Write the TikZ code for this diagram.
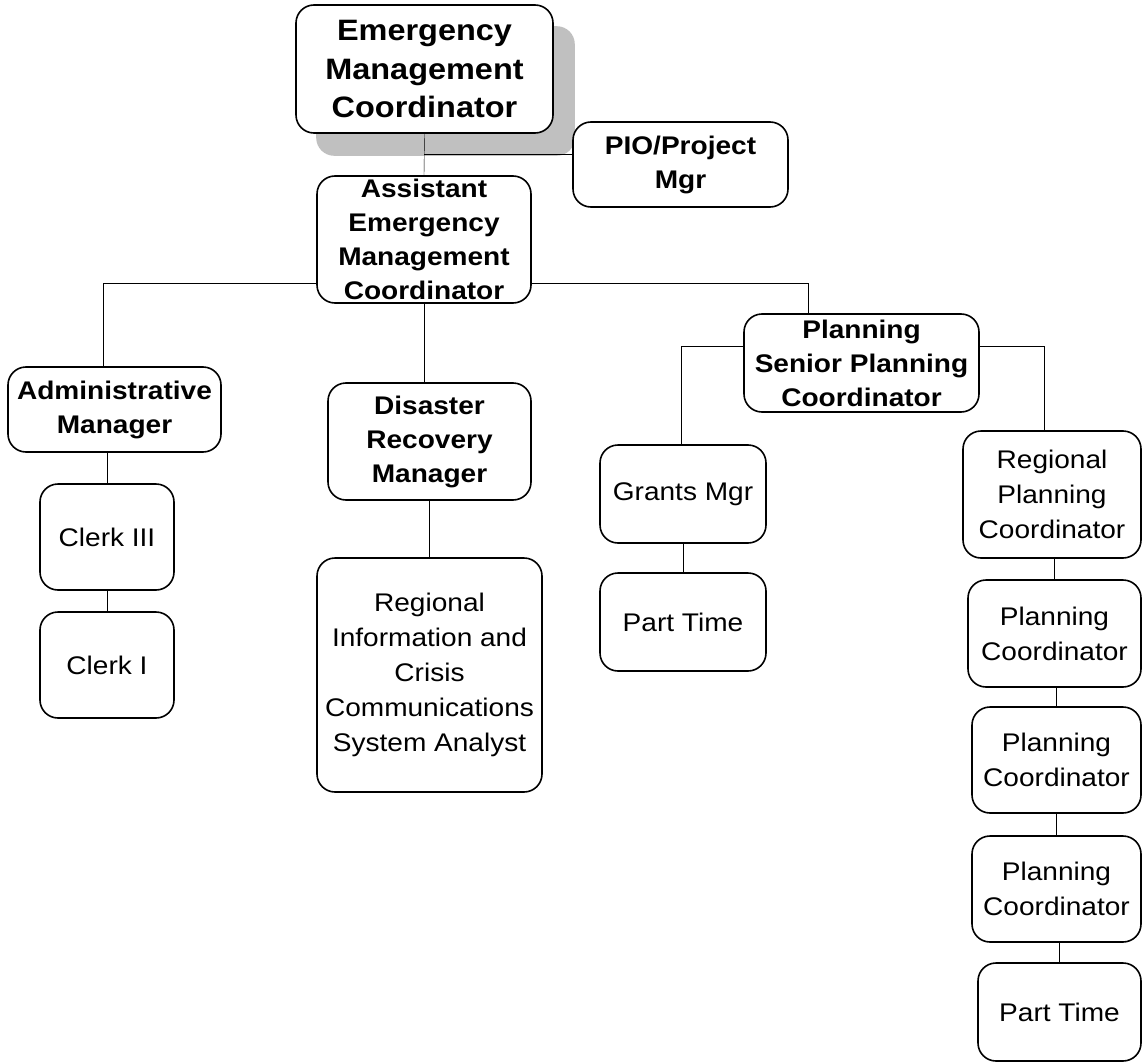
\documentclass[tikz,border=0pt]{standalone}
\usepackage{fontspec}
\setmainfont{Liberation Sans}[FakeStretch=1.1]
\usetikzlibrary{positioning,backgrounds,calc}
\definecolor{shgray}{RGB}{192,192,192}

\begin{document}
\begin{tikzpicture}[x=1pt,y=-1pt,line width=1.2pt]
\tikzstyle{bx} = [draw,fill=white,line width=1.6pt,rounded corners=18pt,inner sep=0pt,align=center,font=\fontsize{25.5}{34}\selectfont\bfseries]
\tikzstyle{rx} = [bx,font=\fontsize{25.5}{35}\selectfont]
\useasboundingbox (0,0) rectangle (1143,1062);
% top of the tree
\node[bx,minimum width=257,minimum height=128,font=\fontsize{29.5}{38.5}\selectfont\bfseries] (emc) at (424.5,69) {Emergency\\Management\\Coordinator};
\node[bx,minimum width=215,minimum height=85] (pio) at (680.5,164.5) {PIO/Project\\Mgr};
\node[bx,minimum width=214,minimum height=127] (aemc) at (424,239.5) {Assistant\\Emergency\\Management\\Coordinator};
% admin branch
\node[bx,minimum width=213,minimum height=85] (admin) at (114.5,409.5) {Administrative\\Manager};
\node[rx,minimum width=134,minimum height=106] (clerk3) at (107,537) {Clerk III};
\node[rx,minimum width=134,minimum height=106] (clerk1) at (107,665) {Clerk I};
% disaster recovery branch
\node[bx,minimum width=203,minimum height=117] (drm) at (429.5,441.5) {Disaster\\Recovery\\Manager};
\node[rx,minimum width=225,minimum height=234] (rica) at (429.5,675) {Regional\\Information and\\Crisis\\Communications\\System Analyst};
% planning branch
\node[bx,minimum width=235,minimum height=98] (plan) at (861.5,363) {Planning\\Senior Planning\\Coordinator};
\node[rx,minimum width=166,minimum height=98] (grants) at (683,494) {Grants Mgr};
\node[rx,minimum width=166,minimum height=98] (pt1) at (683,622) {Part Time};
\node[rx,minimum width=178,minimum height=127] (rpc) at (1052,494.5) {Regional\\Planning\\Coordinator};
\node[rx,minimum width=173,minimum height=107] (pc1) at (1054.5,633.5) {Planning\\Coordinator};
\node[rx,minimum width=169,minimum height=106] (pc2) at (1056.5,760) {Planning\\Coordinator};
\node[rx,minimum width=169,minimum height=106] (pc3) at (1056.5,889) {Planning\\Coordinator};
\node[rx,minimum width=163,minimum height=98] (pt2) at (1059.5,1012) {Part Time};
\begin{pgfonlayer}{background}
\fill[shgray,rounded corners=18pt] ($(emc.north west)+(21,22)$) rectangle ($(emc.south east)+(21,22)$);
\coordinate (pj) at (424,154);
\coordinate (hl) at (103,283);
\coordinate (hr) at (808,283);
\coordinate (pl) at (681,346);
\coordinate (pr) at (1044,346);
\draw (emc.south) -- (aemc.north);
\draw (pj) -- (pj -| pio.west);
\draw (hl |- admin.north) -- (hl) -- (hr) -- (hr |- plan.north);
\draw (aemc.south) -- (aemc.south |- drm.north);
\draw (drm.south) -- (rica.north);
\draw (pl -| plan.west) -- (pl) -- (pl |- grants.north);
\draw (pr -| plan.east) -- (pr) -- (pr |- rpc.north);
\foreach \a/\b in {admin/clerk3,clerk3/clerk1,grants/pt1,rpc/pc1,pc1/pc2,pc2/pc3,pc3/pt2}
  \draw (\b.north) -- (\b.north |- \a.south);
\end{pgfonlayer}
\end{tikzpicture}
\end{document}
